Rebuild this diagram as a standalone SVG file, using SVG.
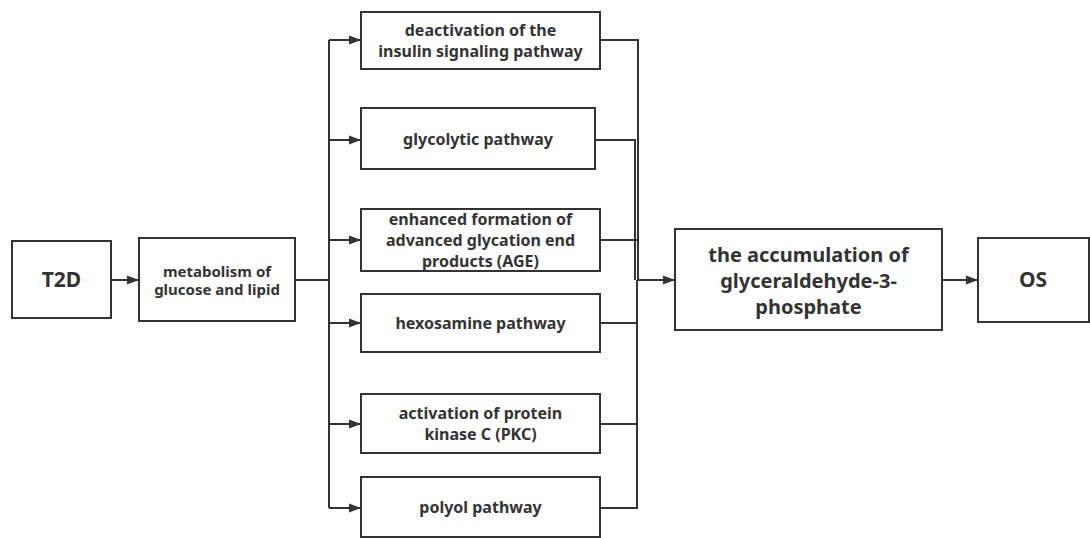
<svg xmlns="http://www.w3.org/2000/svg" width="1090" height="538" viewBox="0 0 1090 538">
<style>
.box{fill:#fff;stroke:#333;stroke-width:2}
.t{font-family:"Noto Sans","Open Sans",sans-serif;font-weight:bold;fill:#333;text-anchor:middle}
.c{fill:none;stroke:#333;stroke-width:2}
</style>
<defs>
<marker id="ah" viewBox="0 0 12 10" refX="12" refY="5" markerWidth="12" markerHeight="10" markerUnits="userSpaceOnUse" orient="auto"><path d="M0,0.5 L12,5 L0,9.5 z" fill="#333"/></marker>
</defs>
<g id="connectors">
<path class="c" d="M111,280 H139" marker-end="url(#ah)"/>
<path class="c" d="M295,280 H329"/>
<path class="c" d="M329,40 V508"/>
<path class="c" d="M329,40 H361" marker-end="url(#ah)"/>
<path class="c" d="M329,140 H361" marker-end="url(#ah)"/>
<path class="c" d="M329,240 H361" marker-end="url(#ah)"/>
<path class="c" d="M329,323 H361" marker-end="url(#ah)"/>
<path class="c" d="M329,424 H361" marker-end="url(#ah)"/>
<path class="c" d="M329,508 H361" marker-end="url(#ah)"/>
<path class="c" d="M600,40 H638 V280"/>
<path class="c" d="M595,140 H635 V280"/>
<path class="c" d="M600,240 H637"/>
<path class="c" d="M600,323 H637"/>
<path class="c" d="M600,424 H637"/>
<path class="c" d="M600,508 H637 V280"/>
<path class="c" d="M637,280 H675" marker-end="url(#ah)"/>
<path class="c" d="M942,280 H978" marker-end="url(#ah)"/>
</g>
<g id="t2d"><rect class="box" x="12" y="241" width="99" height="77"/><text class="t" x="61.5" y="287" font-size="21">T2D</text></g>
<g id="metabolism"><rect class="box" x="139" y="238" width="156" height="83"/><text class="t" font-size="15"><tspan x="217" y="277">metabolism of</tspan><tspan x="217" y="295">glucose and lipid</tspan></text></g>
<g id="deactivation"><rect class="box" x="361" y="12" width="239" height="57"/><text class="t" font-size="16"><tspan x="480.5" y="36">deactivation of the</tspan><tspan x="480.5" y="57">insulin signaling pathway</tspan></text></g>
<g id="glycolytic"><rect class="box" x="361" y="108" width="234" height="61"/><text class="t" font-size="16" x="478" y="145">glycolytic pathway</text></g>
<g id="age"><rect class="box" x="361" y="209" width="239" height="62"/><text class="t" font-size="16"><tspan x="480.5" y="225">enhanced formation of</tspan><tspan x="480.5" y="246">advanced glycation end</tspan><tspan x="480.5" y="267">products (AGE)</tspan></text></g>
<g id="hexosamine"><rect class="box" x="361" y="294" width="239" height="58"/><text class="t" font-size="16" x="480.5" y="329">hexosamine pathway</text></g>
<g id="pkc"><rect class="box" x="361" y="394" width="239" height="59"/><text class="t" font-size="16"><tspan x="480.5" y="419">activation of protein</tspan><tspan x="480.5" y="440">kinase C (PKC)</tspan></text></g>
<g id="polyol"><rect class="box" x="361" y="477" width="239" height="60"/><text class="t" font-size="16" x="480.5" y="513">polyol pathway</text></g>
<g id="accumulation"><rect class="box" x="675" y="229" width="267" height="101"/><text class="t" font-size="20"><tspan x="808.5" y="262">the accumulation of</tspan><tspan x="808.5" y="288">glyceraldehyde-3-</tspan><tspan x="808.5" y="314">phosphate</tspan></text></g>
<g id="os"><rect class="box" x="978" y="238" width="111" height="84"/><text class="t" font-size="21" x="1033" y="287">OS</text></g>
</svg>
